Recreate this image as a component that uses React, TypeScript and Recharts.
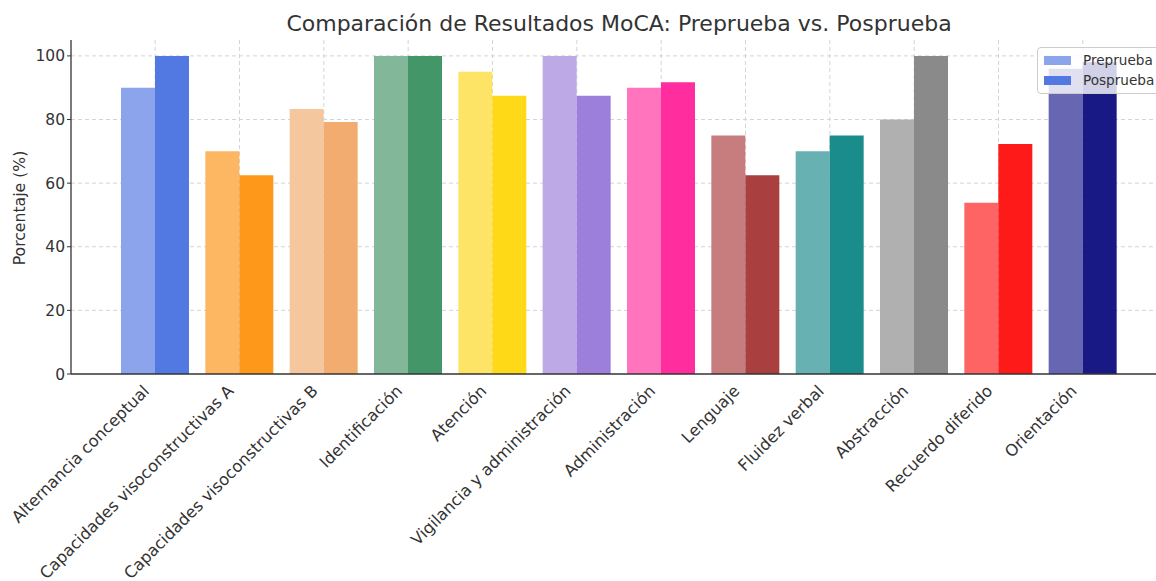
import React from 'react'
import {
  BarChart,
  Bar,
  XAxis,
  YAxis,
  CartesianGrid,
  Cell
} from 'recharts'

const categories = [
  'Alternancia conceptual',
  'Capacidades visoconstructivas A',
  'Capacidades visoconstructivas B',
  'Identificación',
  'Atención',
  'Vigilancia y administración',
  'Administración',
  'Lenguaje',
  'Fluidez verbal',
  'Abstracción',
  'Recuerdo diferido',
  'Orientación'
]

const preprueba = [90, 70, 83.3, 100, 95, 100, 90, 75, 70, 80, 53.8, 96]
const posprueba = [100, 62.5, 79.2, 100, 87.5, 87.5, 91.7, 62.5, 75, 100, 72.3, 98]

const preColors = [
  '#8ca4ec', '#fdb762', '#f5c79e', '#82b899', '#fee466', '#bda9e6',
  '#ff74bc', '#c77d7e', '#68b1b3', '#b0b0b0', '#ff6464', '#6766b3'
]
const postColors = [
  '#5279e1', '#fe981a', '#f3ac70', '#439668', '#fed918', '#9c7fdb',
  '#ff2d9e', '#aa3f3f', '#198c8b', '#8a8a8a', '#ff1a1a', '#191985'
]

const yTicks = [0, 20, 40, 60, 80, 100]
const gridY = [20, 40, 60, 80, 100]

const data = categories.map((name, i) => ({
  name,
  Preprueba: preprueba[i],
  Posprueba: posprueba[i]
}))

const FONT = '"DejaVu Sans", sans-serif'

// rotated category labels, right end sits under the tick
function AngledTick({ x, y, payload }: any) {
  return (
    <g transform={`translate(${x - 5},${y + 10})`}>
      <text
        x={0}
        y={0}
        textAnchor="end"
        transform="rotate(-45)"
        fontSize={16.2}
        fontFamily={FONT}
        fill="#333"
      >
        {payload.value}
      </text>
    </g>
  )
}

function LegendBox() {
  const items = [
    { label: 'Preprueba', color: preColors[0] },
    { label: 'Posprueba', color: postColors[0] }
  ]
  return (
    <div
      style={{
        position: 'absolute',
        left: 1037,
        top: 47,
        background: 'rgba(255,255,255,0.8)',
        border: '1px solid #cccccc',
        borderRadius: 4,
        padding: '2px 12px 3px 6px',
        fontFamily: FONT,
        fontSize: 13.6,
        color: '#333',
        lineHeight: '20px',
        whiteSpace: 'nowrap'
      }}
    >
      {items.map(it => (
        <div key={it.label} style={{ display: 'flex', alignItems: 'center' }}>
          <span style={{ display: 'inline-block', width: 27, height: 9, background: it.color, marginRight: 12 }} />
          <span>{it.label}</span>
        </div>
      ))}
    </div>
  )
}

export default function App() {
  return (
    <div style={{ position: 'absolute', left: 0, top: 0, width: 1156, height: 581, overflow: 'hidden', background: '#fff' }}>
      <div
        style={{
          position: 'absolute',
          left: 0,
          top: 13,
          width: 1238,
          textAlign: 'center',
          fontFamily: FONT,
          fontSize: 22,
          lineHeight: '22px',
          color: '#333',
          whiteSpace: 'nowrap'
        }}
      >
        Comparación de Resultados MoCA: Preprueba vs. Posprueba
      </div>
      <BarChart
        width={1156}
        height={581}
        data={data}
        margin={{ top: 40, right: 0, left: 0, bottom: 0 }}
        barGap={0}
        barSize={34}
        style={{ position: 'absolute', left: 0, top: 0 }}
      >
        <CartesianGrid strokeDasharray="4 3" stroke="#d4d4d4" horizontalValues={gridY} verticalValues={categories} />
        <XAxis
          dataKey="name"
          height={207}
          interval={0}
          padding={{ left: 42, right: 31 }}
          tick={<AngledTick />}
          tickLine={false}
          axisLine={{ stroke: '#333', strokeWidth: 1.3 }}
        />
        <YAxis
          width={71}
          domain={[0, 105]}
          ticks={yTicks}
          tickSize={4}
          tick={{ fontSize: 15.5, fill: '#333', fontFamily: FONT }}
          tickLine={{ stroke: '#333' }}
          axisLine={{ stroke: '#333', strokeWidth: 1.3 }}
          label={{
            value: 'Porcentaje (%)',
            content: () => (
              <text
                x={19}
                y={208}
                transform="rotate(-90 19 208)"
                textAnchor="middle"
                dominantBaseline="central"
                fontSize={15.7}
                fontFamily={FONT}
                fill="#333"
              >
                Porcentaje (%)
              </text>
            )
          }}
        />
        <Bar dataKey="Preprueba" fill={preColors[0]} isAnimationActive={false}>
          {data.map((d, i) => (
            <Cell key={`pre-${i}`} fill={preColors[i]} />
          ))}
        </Bar>
        <Bar dataKey="Posprueba" fill={postColors[0]} isAnimationActive={false}>
          {data.map((d, i) => (
            <Cell key={`post-${i}`} fill={postColors[i]} />
          ))}
        </Bar>
      </BarChart>
      <LegendBox />
    </div>
  )
}
